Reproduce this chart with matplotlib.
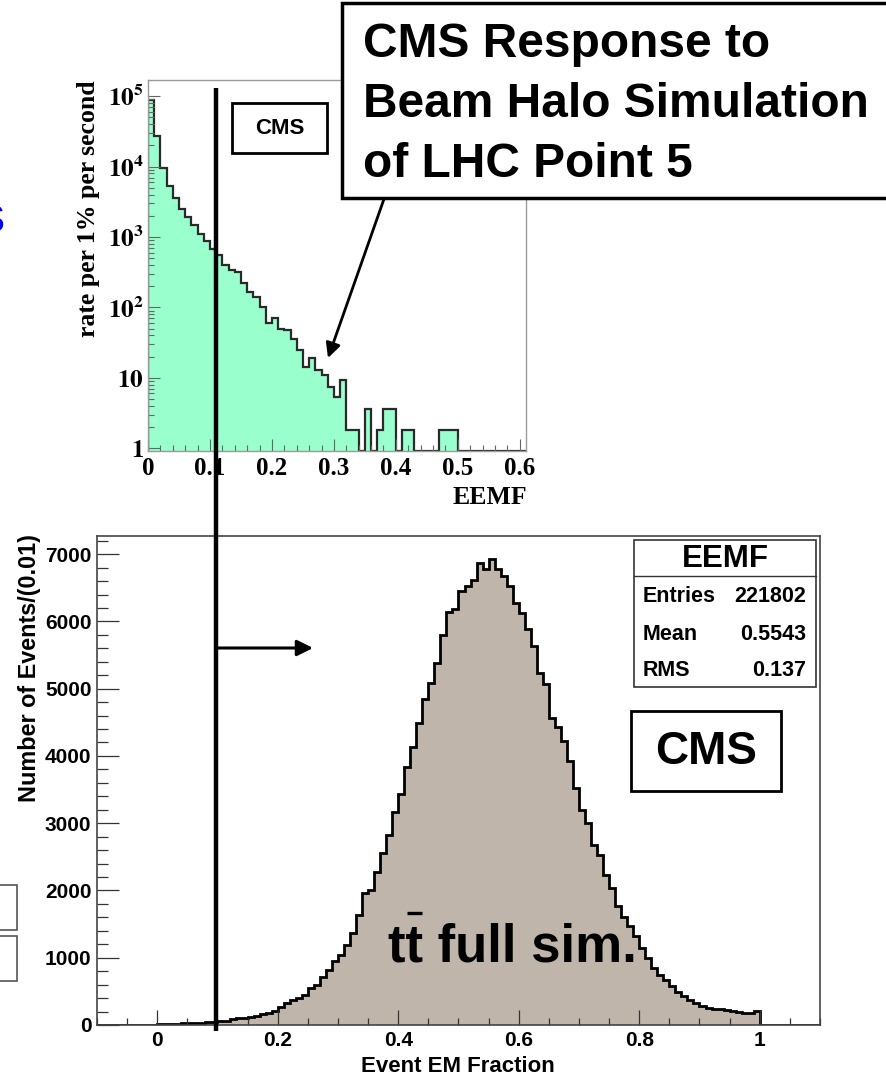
import numpy as np
import matplotlib
matplotlib.use("Agg")
import matplotlib.pyplot as plt
from matplotlib.patches import Rectangle
from matplotlib.ticker import MultipleLocator, LogLocator, NullFormatter

plt.rcParams['mathtext.fontset'] = 'stix'
SANS = 'Liberation Sans'
SERIF = 'Liberation Serif'

# =================== Data ===================
# Beam halo simulation: rate per 1% per second, EEMF bins of 0.01 starting at 0
halo_bin_width = 0.01
halo_rate = [87000, 27000, 9700, 5300, 3600, 2500, 1900, 1500, 1100, 890,
             680, 550, 400, 340, 320, 219, 166, 141, 100, 60,
             71, 50, 48, 36, 25, 14, 19, 13, 11, 7.4,
             5.4, 9.2, 1.8, 1.8, 0, 3.6, 0, 1.8, 3.6, 3.6,
             0, 1.8, 1.8, 0, 0, 0, 0, 1.8, 1.8, 1.8,
             0, 0, 0, 0, 0, 0, 0, 0, 0, 0, 0]
halo_xticks = [0, 0.1, 0.2, 0.3, 0.4, 0.5, 0.6]
halo_yticks = [1, 10, 1e2, 1e3, 1e4, 1e5]
halo_ylabels = [r'$\mathbf{1}$', r'$\mathbf{10}$', r'$\mathbf{10^{2}}$',
                r'$\mathbf{10^{3}}$', r'$\mathbf{10^{4}}$', r'$\mathbf{10^{5}}$']

# ttbar full simulation: events per 0.01 of event EM fraction, bins from 0 to 1
ttbar_bin_width = 0.01
ttbar_counts = [20, 20, 22, 22, 25, 30, 32, 35, 38, 45,
                55, 65, 95, 100, 105, 125, 135, 160, 175, 210,
                270, 320, 365, 405, 450, 550, 600, 720, 820, 945,
                1045, 1190, 1365, 1640, 1960, 2000, 2280, 2555, 2825, 3170,
                3435, 3840, 4137, 4484, 4840, 5078, 5375, 5805, 6141, 6181,
                6448, 6522, 6611, 6874, 6785, 6933, 6785, 6670, 6527, 6280,
                6132, 5894, 5631, 5235, 5068, 4559, 4434, 4222, 3925, 3519,
                3197, 3009, 2680, 2531, 2233, 2040, 1762, 1613, 1465, 1317,
                1144, 996, 848, 748, 664, 575, 486, 426, 377, 328,
                288, 258, 245, 233, 220, 208, 195, 184, 175, 205]
ttbar_xticks = [0, 0.2, 0.4, 0.6, 0.8, 1]
ttbar_yticks = [0, 1000, 2000, 3000, 4000, 5000, 6000, 7000]
stats_rows = [('Entries', '221802'), ('Mean', '0.5543'), ('RMS', '0.137')]
title_lines = ['CMS Response to', 'Beam Halo Simulation', 'of LHC Point 5']
# ============================================

W, H = 887, 1079
fig = plt.figure(figsize=(W / 100, H / 100), dpi=100)


def px_axes(x0, y0, x1, y1):
    # axes placed by pixel box (top-left origin)
    return fig.add_axes([x0 / W, 1 - y1 / H, (x1 - x0) / W, (y1 - y0) / H])


# ---------- top panel: beam halo (log) ----------
ax1 = px_axes(148, 80, 526, 451)
ymin1 = 0.91
edges1 = np.arange(len(halo_rate) + 1) * halo_bin_width
rate = np.clip(np.array(halo_rate, dtype=float), ymin1, None)
ax1.stairs(rate, edges1, baseline=ymin1, fill=True, color='#99ffcc', lw=0)
ax1.stairs(rate, edges1, baseline=ymin1, color='#2a2a2a', lw=1.6)
ax1.set_yscale('log')
ax1.set_xlim(0, 0.61)
ax1.set_ylim(ymin1, 1.7e5)
ax1.set_xticks(halo_xticks, labels=[f'{v:g}' for v in halo_xticks])
ax1.xaxis.set_minor_locator(MultipleLocator(0.02))
ax1.set_yticks(halo_yticks, labels=halo_ylabels)
ax1.yaxis.set_minor_locator(LogLocator(base=10, subs=np.arange(2, 10)))
ax1.yaxis.set_minor_formatter(NullFormatter())
ax1.tick_params(which='both', direction='in', top=False, right=False,
                color='#666666', width=0.8, labelsize=18)
ax1.tick_params(axis='x', which='major', length=8.5, pad=4)
ax1.tick_params(axis='x', which='minor', length=4)
ax1.tick_params(axis='y', which='major', length=8.5, pad=3)
ax1.tick_params(axis='y', which='minor', length=4.5)
for lab in ax1.get_xticklabels() + ax1.get_yticklabels():
    lab.set_family(SERIF)
    lab.set_weight('bold')
for sp in ax1.spines.values():
    sp.set_color('#9a9a9a')
    sp.set_linewidth(1.0)

# ---------- bottom panel: ttbar ----------
ax2 = px_axes(97, 536, 820, 1025)
pad_bins = 10
counts = np.concatenate([np.zeros(pad_bins), ttbar_counts, np.zeros(pad_bins)])
edges2 = (np.arange(len(counts) + 1) - pad_bins) * ttbar_bin_width
ax2.stairs(counts, edges2, fill=True, color='#c0b5ab', lw=0)
ax2.stairs(counts, edges2, color='black', lw=2)
ax2.set_xlim(-0.1, 1.1)
ax2.set_ylim(0, 7270)
ax2.set_xticks(ttbar_xticks, labels=[f'{v:g}' for v in ttbar_xticks])
ax2.xaxis.set_minor_locator(MultipleLocator(0.05))
ax2.set_yticks(ttbar_yticks, labels=[str(v) for v in ttbar_yticks])
ax2.yaxis.set_minor_locator(MultipleLocator(200))
ax2.tick_params(which='both', direction='in', top=False, right=False,
                color='#333333', width=0.9, labelsize=15)
ax2.tick_params(axis='x', which='major', length=10.5, pad=4)
ax2.tick_params(axis='x', which='minor', length=5.3)
ax2.tick_params(axis='y', which='major', length=15.5, pad=4)
ax2.tick_params(axis='y', which='minor', length=8)
for lab in ax2.get_xticklabels() + ax2.get_yticklabels():
    lab.set_family(SANS)
    lab.set_weight('bold')
for sp in ax2.spines.values():
    sp.set_color('#444444')
    sp.set_linewidth(1.2)

# ---------- overlay in pixel coordinates ----------
ov = fig.add_axes([0, 0, 1, 1], facecolor='none')
ov.set_xlim(0, W)
ov.set_ylim(H, 0)
ov.axis('off')

bold_sans = dict(family=SANS, weight='bold', color='black')

# axis titles
ov.text(89, 80, 'rate per 1% per second', rotation=90, ha='center', va='top',
        family=SERIF, weight='bold', fontsize=18.5)
ov.text(527, 498, 'EEMF', ha='right', va='center', family=SERIF, weight='bold',
        fontsize=18.5)
ov.text(30, 534, 'Number of Events/(0.01)', rotation=90, ha='center', va='top',
        fontsize=16.8, **bold_sans)
ov.text(458, 1066, 'Event EM Fraction', ha='center', va='center', fontsize=16,
        **bold_sans)

# small CMS label in top panel
ov.add_patch(Rectangle((232, 103), 95, 50, fc='white', ec='black', lw=2))
ov.text(279.5, 129, 'CMS', ha='center', va='center', fontsize=16, **bold_sans)

# title box
ov.add_patch(Rectangle((342, 3), 620, 195, fc='white', ec='black', lw=2.5, clip_on=False))
for i, line in enumerate(title_lines):
    ov.text(363, 57 + 60 * i, line, ha='left', va='baseline', fontsize=34.5, **bold_sans)

# arrow from title box to the halo tail
ov.annotate('', xy=(328, 358), xytext=(384, 199),
            arrowprops=dict(arrowstyle='-|>', color='black', lw=2, mutation_scale=22,
                            shrinkA=0, shrinkB=0))

# cut line at EEMF = 0.1 and accepted-side arrow
ov.plot([216, 216], [88, 1031], color='black', lw=3.2, solid_capstyle='butt')
ov.annotate('', xy=(313, 648), xytext=(218, 648),
            arrowprops=dict(arrowstyle='-|>', color='black', lw=2.2, mutation_scale=24,
                            shrinkA=0, shrinkB=0))

# statistics box
ov.add_patch(Rectangle((634, 540), 182, 146.5, fc='white', ec='#333333', lw=1.2))
ov.plot([634, 816], [575.5, 575.5], color='#333333', lw=1.0)
ov.text(725, 559, 'EEMF', ha='center', va='center', fontsize=22.5, **bold_sans)
for (name, val), y in zip(stats_rows, [597, 634, 670]):
    ov.text(643, y, name, ha='left', va='center', fontsize=15.5, **bold_sans)
    ov.text(806, y, val, ha='right', va='center', fontsize=15.5, **bold_sans)

# CMS box in bottom panel
ov.add_patch(Rectangle((631, 711), 150, 80, fc='white', ec='black', lw=2))
ov.text(706, 752, 'CMS', ha='center', va='center', fontsize=33, **bold_sans)

# ttbar label, with the anti-top bar over the second t
ov.text(388, 962, 'tt full sim.', ha='left', va='baseline', fontsize=38, **bold_sans)
ov.plot([407, 422], [913, 913], color='black', lw=2.4, solid_capstyle='butt')

# fragments cut at the left edge of the page
ov.add_patch(Rectangle((-20, 885), 37, 45, fc='none', ec='#555555', lw=1.2))
ov.add_patch(Rectangle((-20, 936), 37, 45, fc='none', ec='#555555', lw=1.2))
ov.text(4, 232, 'S', ha='right', va='baseline', color='#0000ee', family=SANS,
        fontsize=27)

fig.savefig('out.png', dpi=100)
